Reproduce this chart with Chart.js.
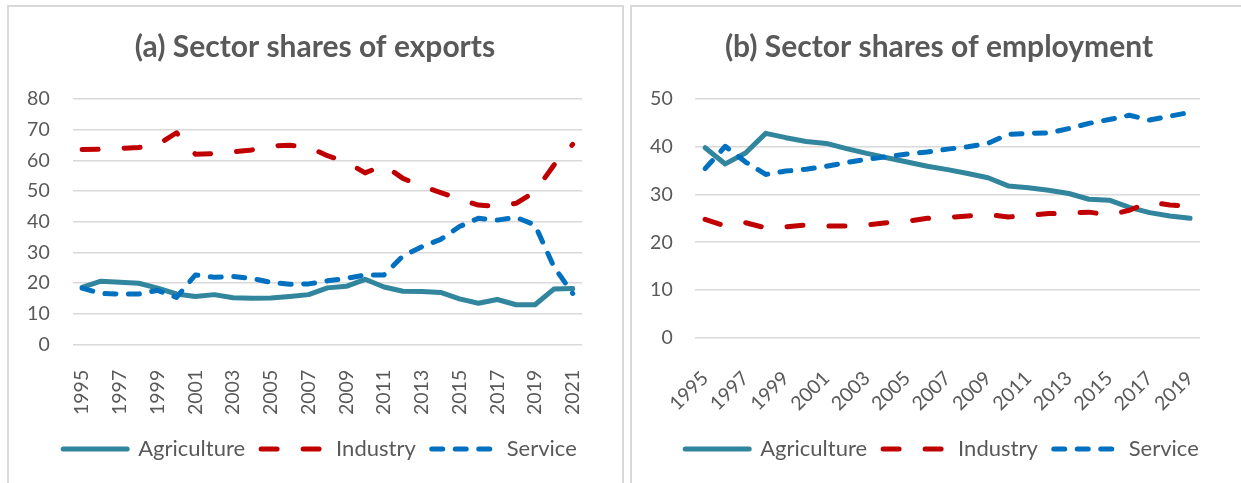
<!DOCTYPE html>
<html><head><meta charset="utf-8">
<script src="https://cdn.jsdelivr.net/npm/chart.js@4.4.1/dist/chart.umd.min.js"></script>
<style>
html,body{margin:0;padding:0;background:#fff;overflow:hidden;width:1241px;height:483px;}
.panel{position:absolute;border:2px solid #d9d9d9;box-sizing:border-box;}
#p1{left:7px;top:5px;width:617px;height:600px;}
#p2{left:630px;top:5px;width:700px;height:600px;}
.wrap{position:absolute;top:0;height:483px;}
#w1{left:0;width:614px;}
#w2{left:627px;width:601px;}
</style></head><body>
<div class="panel" id="p1"></div><div class="panel" id="p2"></div>
<div class="wrap" id="w1"><canvas id="c1"></canvas></div>
<div class="wrap" id="w2"><canvas id="c2"></canvas></div>
<script>
// ---- data ----
const exportYears = ['1995','1996','1997','1998','1999','2000','2001','2002','2003','2004','2005','2006','2007','2008','2009','2010','2011','2012','2013','2014','2015','2016','2017','2018','2019','2020','2021'];
const exportsAgriculture = [18.6,20.6,20.2,19.9,18.3,16.4,15.6,16.2,15.2,15.0,15.1,15.6,16.2,18.4,18.9,21.2,18.7,17.3,17.2,16.9,14.8,13.4,14.6,12.9,12.9,18.0,18.2];
const exportsIndustry = [63.5,63.6,63.9,64.2,65.0,69.0,62.0,62.2,62.8,63.4,64.7,64.9,64.3,61.5,59.5,55.9,58.4,54.1,51.6,49.5,47.3,45.4,44.9,46.0,49.8,58.4,65.2];
const exportsService = [18.3,16.6,16.4,16.4,17.6,15.3,22.6,21.9,22.1,21.5,20.2,19.6,19.7,20.7,21.5,22.6,22.6,28.8,31.8,34.2,38.4,41.1,40.5,41.4,38.9,25.3,16.6];

const employmentYears = ['1995','1996','1997','1998','1999','2000','2001','2002','2003','2004','2005','2006','2007','2008','2009','2010','2011','2012','2013','2014','2015','2016','2017','2018','2019'];
const employmentAgriculture = [39.8,36.4,38.7,42.8,41.9,41.1,40.7,39.6,38.6,37.7,36.8,35.9,35.2,34.4,33.5,31.8,31.4,30.9,30.2,29.0,28.8,27.3,26.2,25.5,25.0];
const employmentIndustry = [24.8,23.4,24.1,23.0,23.2,23.6,23.4,23.4,23.6,24.1,24.4,25.0,25.2,25.5,25.8,25.3,25.6,26.0,26.1,26.3,25.7,26.7,28.4,27.8,27.5];
const employmentService = [35.4,40.1,36.8,34.2,34.9,35.3,35.9,36.7,37.4,37.9,38.5,38.9,39.5,40.0,40.7,42.6,42.8,42.9,43.8,44.9,45.7,46.6,45.6,46.4,47.2];

const seriesNames = ['Agriculture','Industry','Service'];
const yTicksExports = {max: 80, step: 10};
const yTicksEmployment = {max: 50, step: 10};
const titles = ['(a) Sector shares of exports', '(b) Sector shares of employment'];

// ---- styling ----
Chart.defaults.font.family = 'Lato, "Open Sans", sans-serif';
Chart.defaults.color = '#595959';
const TXT = '#595959';
const colors = ['#31859C', '#C00000', '#0070C0'];
const dashes = [[], [16, 26], [11, 12.5]];
const orders = [3, 2, 1];

function makeChart(id, labels, values, yt, title, geo) {
  const datasets = values.map((v, i) => ({
    label: seriesNames[i],
    data: v,
    borderColor: colors[i],
    backgroundColor: colors[i],
    borderWidth: 5,
    borderDash: dashes[i],
    borderCapStyle: 'round',
    borderJoinStyle: 'round',
    pointRadius: 0,
    pointHoverRadius: 0,
    tension: 0,
    fill: false,
    order: orders[i]
  }));
  const centerBoxes = {
    id: 'centerBoxes',
    afterLayout(chart) {
      const shift = (box, cx) => {
        if (!box) return;
        const w = box.right - box.left;
        box.left = cx - w / 2; box.right = cx + w / 2;
      };
      shift(chart.legend, geo.legendCx);
      shift(chart.titleBlock, geo.titleCx);
    }
  };
  return new Chart(document.getElementById(id), {
    type: 'line',
    data: {labels, datasets},
    plugins: [centerBoxes],
    options: {
      responsive: true,
      maintainAspectRatio: false,
      devicePixelRatio: 1,
      animation: false,
      events: [],
      layout: {padding: {left: geo.pl, right: geo.pr, top: 0, bottom: 13}},
      plugins: {
        title: {
          display: true, text: title, color: TXT,
          font: {size: 30, weight: 'bold', lineHeight: 1.2},
          padding: {top: 29, bottom: 34}
        },
        legend: {
          position: 'bottom',
          labels: {
            usePointStyle: true, pointStyle: 'line', pointStyleWidth: 64,
            boxHeight: 22, font: {size: 22}, color: TXT, padding: 16,
            sort: (a, b) => a.datasetIndex - b.datasetIndex,
            generateLabels: chart => Chart.defaults.plugins.legend.labels.generateLabels(chart).map(it => ({
              ...it,
              lineDash: dashes[it.datasetIndex],
              lineCap: 'round',
              lineWidth: 5,
              strokeStyle: colors[it.datasetIndex],
              pointStyle: 'line'
            }))
          }
        },
        tooltip: {enabled: false}
      },
      scales: {
        x: {
          offset: true,
          grid: {display: false},
          border: {display: false},
          ticks: {
            autoSkip: false, minRotation: geo.rot, maxRotation: geo.rot,
            padding: geo.xpad, color: TXT, font: {size: 19.5},
            callback: function(v, i) { return i % 2 === 0 ? this.getLabelForValue(v) : ''; }
          },
          afterFit: s => { s.height = geo.xh; }
        },
        y: {
          min: 0, max: yt.max,
          grid: {color: '#d9d9d9', lineWidth: 1.5, drawTicks: false},
          border: {display: false},
          ticks: {stepSize: yt.step, padding: geo.ypad, color: TXT, font: {size: 19.5}},
          afterFit: s => { s.width = geo.yw; }
        }
      }
    }
  });
}

makeChart('c1', exportYears, [exportsAgriculture, exportsIndustry, exportsService], yTicksExports, titles[0],
  {pl: 10, pr: 20.7, yw: 62.7, ypad: 23, xh: 77.7, xpad: 17.5, rot: 90, legendCx: 320, titleCx: 315});
makeChart('c2', employmentYears, [employmentAgriculture, employmentIndustry, employmentService], yTicksEmployment, titles[1],
  {pl: 10, pr: 20.7, yw: 58, ypad: 22.3, xh: 84.3, xpad: 21, rot: 45, legendCx: 315, titleCx: 312});
</script></body></html>
